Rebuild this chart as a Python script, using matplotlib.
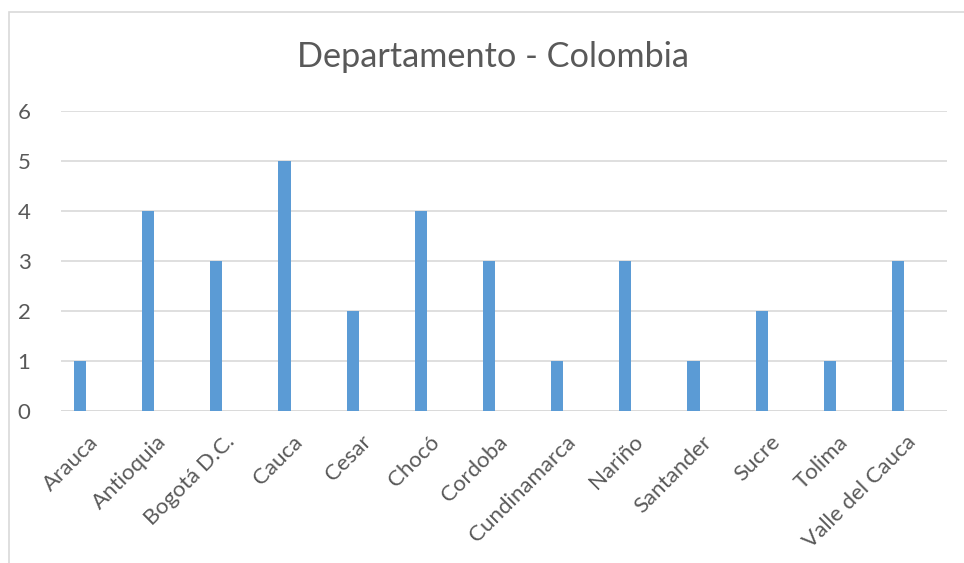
import matplotlib
matplotlib.use("Agg")
import matplotlib.pyplot as plt
from matplotlib.patches import Rectangle
import numpy as np

departamentos = ["Arauca", "Antioquia", "Bogotá D.C.", "Cauca", "Cesar", "Chocó",
                 "Cordoba", "Cundinamarca", "Nariño", "Santander", "Sucre",
                 "Tolima", "Valle del Cauca"]
casos = [1, 4, 3, 5, 2, 4, 3, 1, 3, 1, 2, 1, 3]
y_ticks = [0, 1, 2, 3, 4, 5, 6]
titulo = "Departamento - Colombia"

W, H = 964, 563
fig = plt.figure(figsize=(W / 100, H / 100), dpi=100)
plt.rcParams['font.family'] = ['Lato', 'DejaVu Sans']
text_color = "#595959"
grid_color = "#D9D9D9"

# outer chart border (partly clipped by the figure edge)
fig.patches.append(Rectangle((9 / W, -0.05), 1.1, 1 - 12 / H + 0.05,
                             transform=fig.transFigure, fill=False,
                             edgecolor=grid_color, linewidth=1.2))

ax = fig.add_axes([61 / W, 1 - 411 / H, 886 / W, 300 / H])
x = np.arange(len(departamentos))
ax.bar(x, casos, width=0.18, color="#5B9BD5", zorder=3)

ax.set_xlim(-0.279, 12.719)
ax.set_ylim(0, 6)
ax.set_yticks(y_ticks)
ax.set_yticklabels([str(v) for v in y_ticks], fontsize=16, color=text_color)
ax.yaxis.grid(True, color=grid_color, linewidth=1.2, zorder=0)
ax.tick_params(axis='y', length=0, pad=22)
for s in ax.spines.values():
    s.set_visible(False)
ax.axhline(0, color=grid_color, linewidth=1.2, zorder=2)

ax.set_xticks(x + 0.22)
ax.set_xticklabels(departamentos, rotation=45, ha='right', va='center',
                   rotation_mode='anchor', fontsize=16, color=text_color)
ax.tick_params(axis='x', length=0, pad=20)

fig.text(493 / W, 1 - 57 / H, titulo, ha='center', va='center',
         fontsize=24.7, color=text_color)

fig.savefig("out.png", dpi=100)
